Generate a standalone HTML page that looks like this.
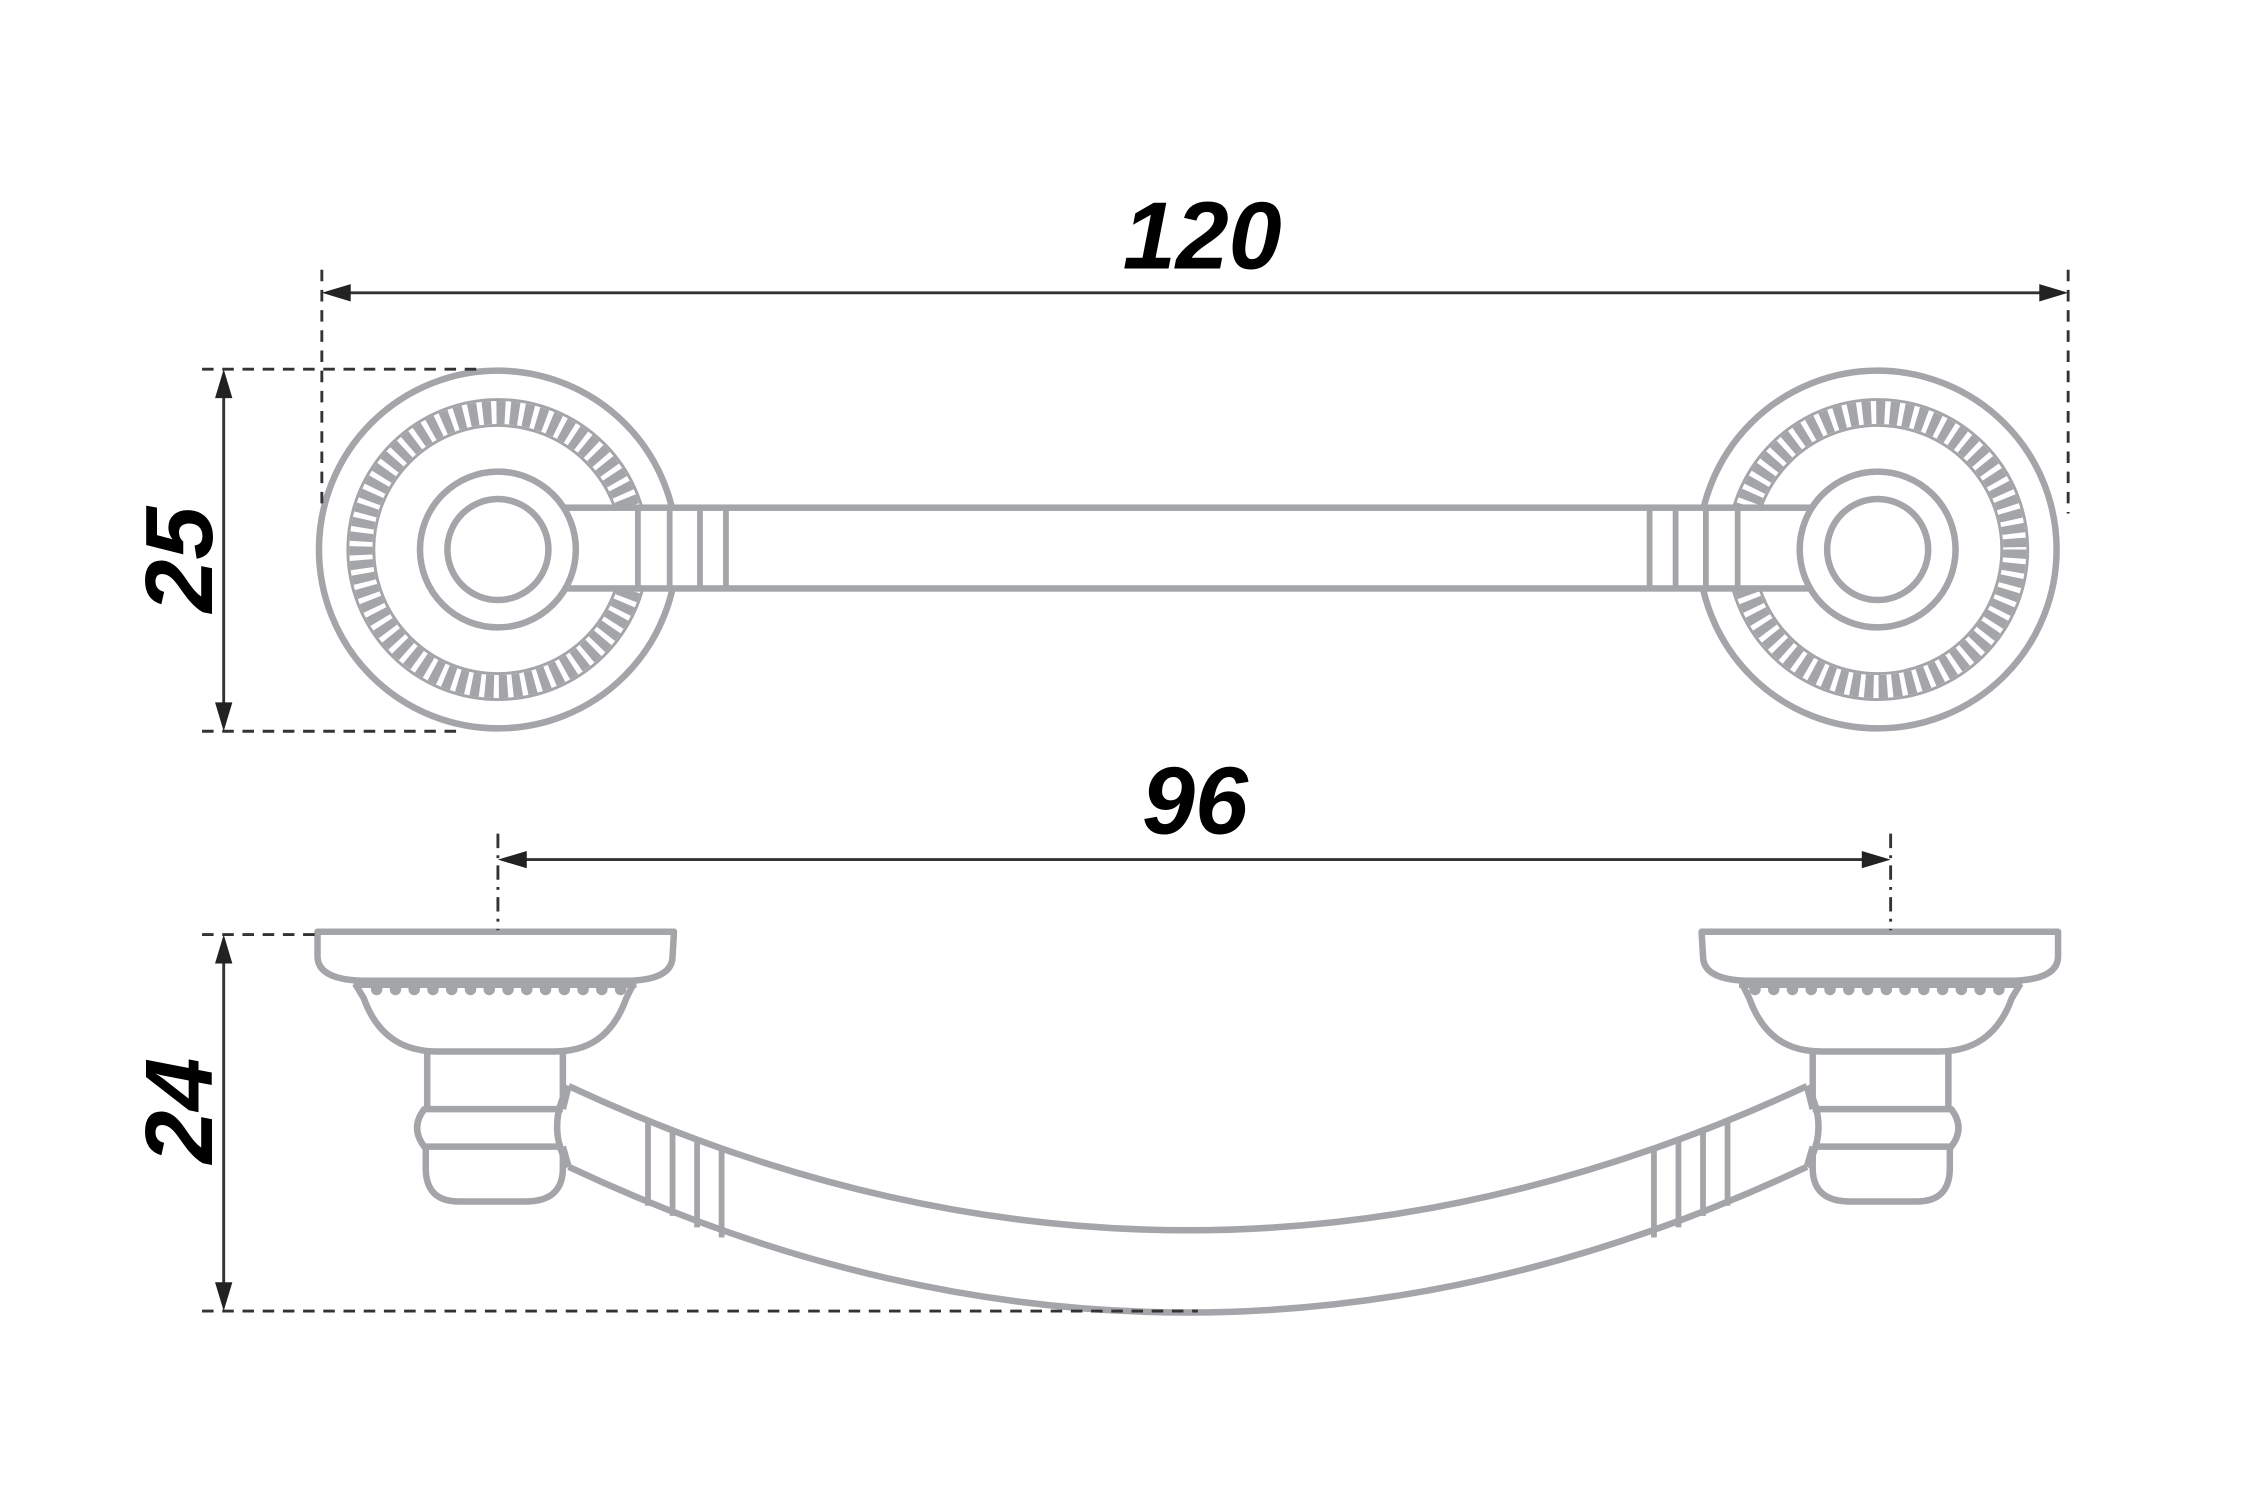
<!DOCTYPE html>
<html><head><meta charset="utf-8"><style>html,body{margin:0;padding:0;background:#fff}svg{display:block}</style></head>
<body>
<svg width="2250" height="1500" viewBox="0 0 1559 1040" preserveAspectRatio="none" xmlns="http://www.w3.org/2000/svg">
<defs>
<g id="rose">
  <circle cx="0" cy="0" r="124" fill="#fff" stroke="#a3a5a8" stroke-width="4.5"/>
  <circle cx="0" cy="0" r="95" fill="none" stroke="#a3a5a8" stroke-width="16" stroke-dasharray="6 3.5"/>
  <circle cx="0" cy="0" r="86" fill="none" stroke="#a3a5a8" stroke-width="2"/>
  <circle cx="0" cy="0" r="104" fill="none" stroke="#a3a5a8" stroke-width="2"/>
</g>
<g id="mount" fill="none" stroke="#a3a5a8" stroke-width="4.5" stroke-linejoin="round">
  <path d="M1179,646 H1426 V663 Q1426,679 1395,680 H1210 Q1180,679 1180,663 Z" fill="#fff"/>
  <path d="M1205,682 H1401" stroke-width="6"/>
  <g fill="#a3a5a8" stroke="none">
    <circle cx="1216" cy="686" r="4"/><circle cx="1229" cy="686" r="4"/><circle cx="1242" cy="686" r="4"/><circle cx="1255" cy="686" r="4"/><circle cx="1268" cy="686" r="4"/><circle cx="1281" cy="686" r="4"/><circle cx="1294" cy="686" r="4"/><circle cx="1307" cy="686" r="4"/><circle cx="1320" cy="686" r="4"/><circle cx="1333" cy="686" r="4"/><circle cx="1346" cy="686" r="4"/><circle cx="1359" cy="686" r="4"/><circle cx="1372" cy="686" r="4"/><circle cx="1385" cy="686" r="4"/>
  </g>
  <path d="M1207,682 L1212,692 C1222,720 1240,729 1262,729 H1343 C1365,729 1384,720 1394,692 L1400,682"/>
  <path d="M1256,729 V769 M1350,729 V769"/>
  <path d="M1256,769 H1352 Q1362,782 1352,795 H1256"/>
  <path d="M1256,795 V810 Q1256,833 1282,833 H1328 Q1351,833 1351,810 V795"/>
  <path d="M1252,753 Q1268,781 1252,809" />
  <path d="M1252,753 L1256,769 M1252,809 L1256,795"/>
</g>
</defs>

<g>
  <use href="#rose" transform="translate(345,381)"/>
  <use href="#rose" transform="translate(1301,381)"/>
  <rect x="392" y="352" width="862" height="56" fill="#fff" stroke="#a3a5a8" stroke-width="4.5"/>
  <g stroke="#a3a5a8" stroke-width="4">
    <line x1="442" y1="352" x2="442" y2="408"/><line x1="464" y1="352" x2="464" y2="408"/><line x1="485" y1="352" x2="485" y2="408"/><line x1="503" y1="352" x2="503" y2="408"/>
    <line x1="1143" y1="352" x2="1143" y2="408"/><line x1="1161" y1="352" x2="1161" y2="408"/><line x1="1182" y1="352" x2="1182" y2="408"/><line x1="1204" y1="352" x2="1204" y2="408"/>
  </g>
  <circle cx="345" cy="381" r="54" fill="#fff" stroke="#a3a5a8" stroke-width="4.5"/>
  <circle cx="345" cy="381" r="35" fill="#fff" stroke="#a3a5a8" stroke-width="4.5"/>
  <circle cx="1301" cy="381" r="54" fill="#fff" stroke="#a3a5a8" stroke-width="4.5"/>
  <circle cx="1301" cy="381" r="35" fill="#fff" stroke="#a3a5a8" stroke-width="4.5"/>
</g>

<g>
  <path d="M1252,753 Q828,953 394,753 L394,809 Q828,1011 1252,809 Z" fill="#fff" stroke="none"/>
  <path d="M1252,753 Q823,953 394,753 M1252,809 Q823,1011 394,809" fill="none" stroke="#a3a5a8" stroke-width="4.5"/>
  <g stroke="#a3a5a8" stroke-width="4">
    <line x1="1146" y1="797" x2="1146" y2="858"/><line x1="1163" y1="791" x2="1163" y2="851"/><line x1="1180" y1="784" x2="1180" y2="843"/><line x1="1197" y1="778" x2="1197" y2="836"/>
    <line x1="500" y1="797" x2="500" y2="858"/><line x1="483" y1="791" x2="483" y2="851"/><line x1="466" y1="784" x2="466" y2="843"/><line x1="449" y1="778" x2="449" y2="836"/>
  </g>
  <use href="#mount"/>
  <use href="#mount" transform="translate(1646,0) scale(-1,1)"/>
</g>

<g stroke="#333" stroke-width="2" fill="none">
  <line x1="223" y1="187" x2="223" y2="350" stroke-dasharray="8 6"/>
  <line x1="1433" y1="187" x2="1433" y2="356" stroke-dasharray="8 6"/>
  <line x1="232" y1="203" x2="1424" y2="203"/>
  <line x1="140" y1="256" x2="335" y2="256" stroke-dasharray="8 6"/>
  <line x1="140" y1="507" x2="320" y2="507" stroke-dasharray="8 6"/>
  <line x1="155" y1="265" x2="155" y2="498"/>
  <line x1="345" y1="578" x2="345" y2="645" stroke-dasharray="10 5 2 5"/>
  <line x1="1310" y1="578" x2="1310" y2="645" stroke-dasharray="10 5 2 5"/>
  <line x1="354" y1="596" x2="1301" y2="596"/>
  <line x1="140" y1="648" x2="220" y2="648" stroke-dasharray="8 6"/>
  <line x1="140" y1="909" x2="830" y2="909" stroke-dasharray="8 6"/>
  <line x1="155" y1="657" x2="155" y2="900"/>
</g>
<g fill="#222">
  <path d="M223,203 L243,197 L243,209 Z"/>
  <path d="M1433,203 L1413,197 L1413,209 Z"/>
  <path d="M155,256 L149,276 L161,276 Z"/>
  <path d="M155,507 L149,487 L161,487 Z"/>
  <path d="M345,596 L365,590 L365,602 Z"/>
  <path d="M1310,596 L1290,590 L1290,602 Z"/>
  <path d="M155,648 L149,668 L161,668 Z"/>
  <path d="M155,909 L149,889 L161,889 Z"/>
</g>
<g font-family="Liberation Sans, sans-serif" font-weight="bold" font-style="italic" font-size="66" fill="#000" text-anchor="middle">
  <text x="833" y="186">120</text>
  <text x="828" y="578">96</text>
  <text transform="translate(147,388) rotate(-90)" x="0" y="0">25</text>
  <text transform="translate(147,770) rotate(-90)" x="0" y="0">24</text>
</g>
</svg>
</body></html>
